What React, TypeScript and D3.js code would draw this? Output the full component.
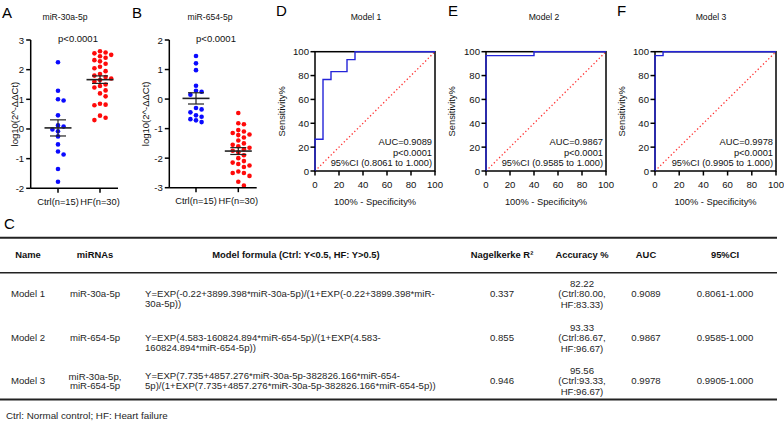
import React from 'react';
import * as d3 from 'd3';

const FONT = "'Liberation Sans', Arial, Helvetica, sans-serif";
const DOT_BLUE = '#0a0aff';
const DOT_RED = '#ff0a0a';
const ROC_BLUE = '#2424d8';
const TXT = '#262626';

// ---------- Scatter data (log10(2^-ΔΔCt)) ----------
const groups = ['Ctrl(n=15)', 'HF(n=30)'];
const mir30Ctrl = [2.25, 1.29, 1.0, 0.96, 0.46, 0.08, 0.12, -0.02, -0.08, -0.25, -0.52, -0.76, -0.86, -1.35, -1.78];
const mir30HF = [2.62, 2.58, 2.55, 2.5, 2.45, 2.4, 2.32, 2.28, 2.2, 2.1, 2.05, 1.95, 1.85, 1.8, 1.75, 1.7, 1.65, 1.6, 1.5, 1.45, 1.4, 1.3, 1.2, 1.1, 0.85, 0.82, 0.8, 0.45, 0.38, 0.3];
const mir654Ctrl = [1.46, 1.21, 0.98, 0.45, 0.28, 0.25, 0.15, -0.3, -0.35, -0.45, -0.55, -0.6, -0.68, -0.72, -0.78];
const mir654HF = [-0.47, -0.82, -0.85, -1.05, -1.1, -1.15, -1.2, -1.22, -1.3, -1.4, -1.5, -1.55, -1.6, -1.65, -1.7, -1.75, -1.8, -1.9, -2.0, -2.1, -2.15, -2.2, -2.25, -2.3, -2.45, -2.5, -2.5, -2.6, -2.8, -2.93];
const ticksA = [-2, -1, 0, 1, 2, 3];
const ticksB = [-3, -2, -1, 0, 1, 2];

// ---------- ROC data (100% - specificity, sensitivity) ----------
const rocTicks = [0, 20, 40, 60, 80, 100];
const roc1Fpr = [0, 0, 6.67, 6.67, 13.33, 13.33, 26.67, 26.67, 33.33, 33.33, 100];
const roc1Tpr = [0, 26.67, 26.67, 76.67, 76.67, 83.33, 83.33, 93.33, 93.33, 100, 100];
const roc2Fpr = [0, 0, 40, 40, 100];
const roc2Tpr = [0, 96.67, 96.67, 100, 100];
const roc3Fpr = [0, 0, 6.67, 6.67, 100];
const roc3Tpr = [0, 96.67, 96.67, 100, 100];
const rocTitles = ['Model 1', 'Model 2', 'Model 3'];
const rocAuc = ['AUC=0.9089', 'AUC=0.9867', 'AUC=0.9978'];
const rocP = ['p<0.0001', 'p<0.0001', 'p<0.0001'];
const rocCi = ['95%CI (0.8061 to 1.000)', '95%CI (0.9585 to 1.000)', '95%CI (0.9905 to 1.000)'];

// ---------- Table data ----------
const tableHeaders = ['Name', 'miRNAs', 'Model formula (Ctrl: Y<0.5, HF: Y>0.5)', 'Nagelkerke R²', 'Accuracy %', 'AUC', '95%CI'];
const modelNames = ['Model 1', 'Model 2', 'Model 3'];
const modelMirnas = [['miR-30a-5p'], ['miR-654-5p'], ['miR-30a-5p,', 'miR-654-5p']];
const modelFormulas = [
  ['Y=EXP(-0.22+3899.398*miR-30a-5p)/(1+EXP(-0.22+3899.398*miR-', '30a-5p))'],
  ['Y=EXP(4.583-160824.894*miR-654-5p)/(1+EXP(4.583-', '160824.894*miR-654-5p))'],
  ['Y=EXP(7.735+4857.276*miR-30a-5p-382826.166*miR-654-', '5p)/(1+EXP(7.735+4857.276*miR-30a-5p-382826.166*miR-654-5p))'],
];
const nagelkerke = ['0.337', '0.855', '0.946'];
const accuracy = [
  ['82.22', '(Ctrl:80.00,', 'HF:83.33)'],
  ['93.33', '(Ctrl:86.67,', 'HF:96.67)'],
  ['95.56', '(Ctrl:93.33,', 'HF:96.67)'],
];
const aucValues = ['0.9089', '0.9867', '0.9978'];
const ciValues = ['0.8061-1.000', '0.9585-1.000', '0.9905-1.000'];
const footnote = 'Ctrl: Normal control; HF: Heart failure';

// ---------- helpers ----------
function swarm(values: number[], y: (v: number) => number, cx: number, step = 5.6, minDist = 4.6) {
  const pts = values.map((v) => ({ v, y: y(v) })).sort((a, b) => a.y - b.y);
  const placed: { x: number; y: number }[] = [];
  for (const p of pts) {
    for (let k = 0; k < 30; k++) {
      const off = k === 0 ? 0 : (k % 2 === 1 ? 1 : -1) * Math.ceil(k / 2) * step;
      const x = cx + off;
      if (!placed.some((q) => Math.abs(q.x - x) < step - 0.1 && Math.abs(q.y - p.y) < minDist)) {
        placed.push({ x, y: p.y });
        break;
      }
    }
  }
  return placed;
}

const LBL = 9.3;

type ScatterProps = {
  letter: string; letterX: number;
  title: string; titleX: number; pX: number;
  axisX: number; axisRight: number; top: number; bottom: number;
  domain: [number, number]; ticks: number[];
  gx: [number, number]; yLabelX: number;
  ctrl: number[]; hf: number[];
};

function Scatter(p: ScatterProps) {
  const y = d3.scaleLinear().domain(p.domain).range([p.bottom, p.top]);
  const x = d3.scalePoint<string>().domain(groups).range(p.gx);
  const sets = [
    { vals: p.ctrl, color: DOT_BLUE, g: groups[0] },
    { vals: p.hf, color: DOT_RED, g: groups[1] },
  ];
  return (
    <g fontFamily={FONT}>
      <text x={p.letterX} y={18} fontSize={15} fill="#000">{p.letter}</text>
      <text x={p.titleX} y={20} fontSize={8.6} textAnchor="middle" fill="#111">{p.title}</text>
      <text x={p.pX} y={42} fontSize={9.5} textAnchor="middle" fill="#111">p&lt;0.0001</text>
      <text transform={`translate(${p.yLabelX},${(p.top + p.bottom) / 2}) rotate(-90)`} fontSize={9.5} textAnchor="middle" dominantBaseline="central" fill="#111">log10(2^-ΔΔCt)</text>
      {sets.map((s, si) => {
        const cx = x(s.g)!;
        const pts = swarm(s.vals, y, cx);
        const m = d3.mean(s.vals)!;
        const sem = d3.deviation(s.vals)! / Math.sqrt(s.vals.length);
        return (
          <g key={si}>
            {pts.map((q, i) => (
              <circle key={i} cx={q.x} cy={q.y} r={2.3} fill={s.color} />
            ))}
            <line x1={cx - 13.5} x2={cx + 13.5} y1={y(m)} y2={y(m)} stroke="#222" strokeWidth={1.6} />
            <line x1={cx} x2={cx} y1={y(m - sem)} y2={y(m + sem)} stroke="#222" strokeWidth={1.2} />
            <line x1={cx - 8} x2={cx + 8} y1={y(m + sem)} y2={y(m + sem)} stroke="#222" strokeWidth={1.2} />
            <line x1={cx - 8} x2={cx + 8} y1={y(m - sem)} y2={y(m - sem)} stroke="#222" strokeWidth={1.2} />
          </g>
        );
      })}
      <line x1={p.axisX} x2={p.axisX} y1={p.top} y2={p.bottom} stroke="#000" strokeWidth={1.5} />
      <line x1={p.axisX} x2={p.axisRight} y1={p.bottom} y2={p.bottom} stroke="#000" strokeWidth={1.5} />
      {p.ticks.map((t) => (
        <g key={t}>
          <line x1={p.axisX - 4.5} x2={p.axisX} y1={y(t)} y2={y(t)} stroke="#000" strokeWidth={1.5} />
          <text x={p.axisX - 6.5} y={y(t)} fontSize={9.6} textAnchor="end" dominantBaseline="central" fill="#111">{t}</text>
        </g>
      ))}
      {groups.map((g) => (
        <g key={g}>
          <line x1={x(g)!} x2={x(g)!} y1={p.bottom} y2={p.bottom + 4.5} stroke="#000" strokeWidth={1.5} />
          <text x={x(g)!} y={p.bottom + 16.5} fontSize={LBL} textAnchor="middle" fill="#111">{g}</text>
        </g>
      ))}
    </g>
  );
}

type RocProps = {
  idx: number; letterX: number; titleX: number;
  left: number; right: number; yLabelX: number;
  fpr: number[]; tpr: number[];
};

function Roc(p: RocProps) {
  const top = 51.7;
  const bottom = 171;
  const x = d3.scaleLinear().domain([0, 100]).range([p.left, p.right]);
  const y = d3.scaleLinear().domain([0, 100]).range([bottom, top]);
  const pts: [number, number][] = p.fpr.map((f, i) => [f, p.tpr[i]]);
  const line = d3.line<[number, number]>().x((d) => x(d[0])).y((d) => y(d[1]));
  const letters = ['D', 'E', 'F'];
  return (
    <g fontFamily={FONT}>
      <text x={p.letterX} y={16} fontSize={15} fill="#000">{letters[p.idx]}</text>
      <text x={p.titleX} y={20} fontSize={8.6} textAnchor="middle" fill="#111">{rocTitles[p.idx]}</text>
      <line x1={x(0)} y1={y(0)} x2={x(100)} y2={y(100)} stroke="#ff3030" strokeWidth={1.3} strokeDasharray="1.3,2.4" />
      <rect x={p.left} y={top} width={p.right - p.left} height={bottom - top} fill="none" stroke="#000" strokeWidth={1.5} />
      <path d={line(pts)!} fill="none" stroke={ROC_BLUE} strokeWidth={1.4} />
      {rocTicks.map((t) => (
        <g key={t}>
          <line x1={p.left - 4.5} x2={p.left} y1={y(t)} y2={y(t)} stroke="#000" strokeWidth={1.5} />
          <text x={p.left - 6} y={y(t)} fontSize={9.6} textAnchor="end" dominantBaseline="central" fill="#111">{t}</text>
          <line x1={x(t)} x2={x(t)} y1={bottom} y2={bottom + 4.5} stroke="#000" strokeWidth={1.5} />
          <text x={x(t)} y={bottom + 16.5} fontSize={9.6} textAnchor="middle" fill="#111">{t}</text>
        </g>
      ))}
      <text x={(p.left + p.right) / 2} y={204.5} fontSize={LBL} textAnchor="middle" fill="#111">100% - Specificity%</text>
      <text transform={`translate(${p.yLabelX},${(top + bottom) / 2}) rotate(-90)`} fontSize={LBL} textAnchor="middle" dominantBaseline="central" fill="#111">Sensitivity%</text>
      <text x={p.right - 3} y={145} fontSize={LBL} textAnchor="end" fill="#111">{rocAuc[p.idx]}</text>
      <text x={p.right - 3} y={155.7} fontSize={LBL} textAnchor="end" fill="#111">{rocP[p.idx]}</text>
      <text x={p.right - 3} y={166.3} fontSize={LBL} textAnchor="end" fill="#111">{rocCi[p.idx]}</text>
    </g>
  );
}

function Table() {
  const rowY = [294, 338, 381];
  const formulaOffset = [0, 0, -5];
  const colX = [28, 95, 296, 502, 582, 646, 725];
  const fs = 9.6;
  const base = 3.4;
  return (
    <g fontFamily={FONT} fill={TXT}>
      <text x={4} y={228.5} fontSize={15} fill="#000">C</text>
      <line x1={0} x2={777} y1={237.7} y2={237.7} stroke="#222" strokeWidth={2} />
      <line x1={0} x2={777} y1={272.8} y2={272.8} stroke="#222" strokeWidth={1.6} />
      <line x1={0} x2={777} y1={399.5} y2={399.5} stroke="#222" strokeWidth={2} />
      {tableHeaders.map((h, i) => (
        <text key={h} x={colX[i]} y={255 + base} fontSize={9.4} fontWeight="bold" textAnchor="middle" fill="#111">{h}</text>
      ))}
      {modelNames.map((name, r) => {
        const cy = rowY[r];
        const mir = modelMirnas[r];
        return (
          <g key={name}>
            <text x={colX[0]} y={cy + base} fontSize={fs} textAnchor="middle">{name}</text>
            {mir.map((m, j) => (
              <text key={j} x={colX[1]} y={cy + base + (j - (mir.length - 1) / 2) * 9.6} fontSize={fs} textAnchor="middle">{m}</text>
            ))}
            {modelFormulas[r].map((f, j) => (
              <text key={j} x={145} y={cy + formulaOffset[r] + base + j * 10} fontSize={fs}>{f}</text>
            ))}
            <text x={colX[3]} y={cy + base} fontSize={fs} textAnchor="middle">{nagelkerke[r]}</text>
            {accuracy[r].map((a, j) => (
              <text key={j} x={colX[4]} y={cy + base + (j - 1) * 10.6} fontSize={fs} textAnchor="middle">{a}</text>
            ))}
            <text x={colX[5]} y={cy + base} fontSize={fs} textAnchor="middle">{aucValues[r]}</text>
            <text x={colX[6]} y={cy + base} fontSize={fs} textAnchor="middle">{ciValues[r]}</text>
          </g>
        );
      })}
      <text x={6} y={418.5} fontSize={9.8}>{footnote}</text>
    </g>
  );
}

export default function App() {
  return (
    <svg width={784} height={421} style={{ position: 'absolute', left: 0, top: 0, background: '#fff' }}>
      <rect width={784} height={421} fill="#fff" />
      <Scatter letter="A" letterX={2} title="miR-30a-5p" titleX={65} pX={78}
        axisX={30.7} axisRight={118} top={40} bottom={188.3} domain={[-2, 3]} ticks={ticksA}
        gx={[58, 100]} yLabelX={14} ctrl={mir30Ctrl} hf={mir30HF} />
      <Scatter letter="B" letterX={132} title="miR-654-5p" titleX={210} pX={216}
        axisX={169.3} axisRight={256.7} top={40} bottom={187.7} domain={[-3, 2]} ticks={ticksB}
        gx={[196, 238.3]} yLabelX={145} ctrl={mir654Ctrl} hf={mir654HF} />
      <Roc idx={0} letterX={276} titleX={366} left={315} right={435} yLabelX={282} fpr={roc1Fpr} tpr={roc1Tpr} />
      <Roc idx={1} letterX={448} titleX={544} left={486} right={606} yLabelX={452} fpr={roc2Fpr} tpr={roc2Tpr} />
      <Roc idx={2} letterX={617} titleX={711} left={655} right={776} yLabelX={622} fpr={roc3Fpr} tpr={roc3Tpr} />
      <Table />
    </svg>
  );
}
